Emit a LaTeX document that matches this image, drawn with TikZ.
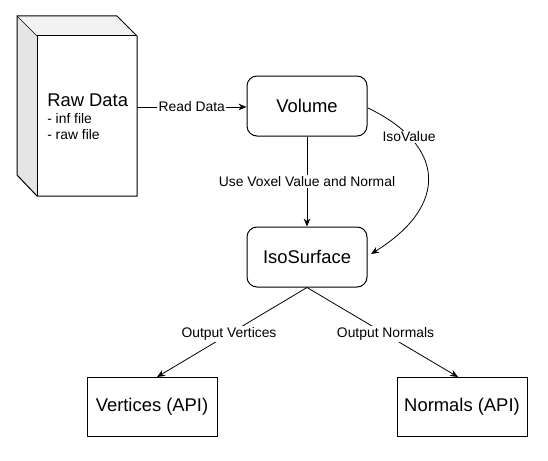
\documentclass[tikz,border=0pt]{standalone}
\usepackage{fontspec}
\setmainfont{Liberation Sans}
\usetikzlibrary{arrows.meta}
\begin{document}
\begin{tikzpicture}[x=0.75pt,y=-0.75pt,
  every node/.style={font=\fontsize{13.8pt}{16pt}\selectfont},
  rbox/.style={draw,line width=0.75pt,rounded corners=7.5pt,minimum width=90pt,minimum height=45pt,inner sep=0pt},
  sbox/.style={draw,line width=0.75pt,minimum width=97.5pt,minimum height=44.25pt,inner sep=0pt},
  small/.style={font=\fontsize{10.4pt}{12pt}\selectfont},
  lbl/.style={fill=white,inner sep=1pt,small},
  conn/.style={line width=0.75pt,-{Stealth[length=6pt,width=5pt]}},
  thin conn/.style={line width=0.6pt,-{Stealth[length=6pt,width=5pt]}}]
\useasboundingbox (0,0) rectangle (548,460);
% cube
\coordinate (b1) at (17,16);
\coordinate (b2) at (117,16);
\coordinate (f1) at (37,36);
\coordinate (f2) at (137,36);
\coordinate (f3) at (137,196);
\coordinate (f4) at (37,196);
\coordinate (b4) at (17,175);
\fill[black!10] (b1) -- (f1) -- (f4) -- (b4) -- cycle;
\fill[black!5] (b1) -- (b2) -- (f2) -- (f1) -- cycle;
\draw[line width=0.75pt,line join=miter] (b1) -- (b2) -- (f2) -- (f3) -- (f4) -- (b4) -- cycle;
\draw[line width=0.75pt] (f1) -- (f2);
\draw[line width=0.75pt] (f1) -- (f4);
\draw[line width=0.5pt] (b1) -- (f1);
\node[anchor=west,inner sep=0pt] (rawt) at (47,100) {Raw Data};
\node[anchor=west,inner sep=0pt,small] (rawa) at (47,119) {- inf file};
\node[anchor=west,inner sep=0pt,small] (rawb) at (47,135) {- raw file};
\coordinate (rawout) at (137,107);
% boxes
\node[rbox] (vol) at (307,106) {Volume};
\node[rbox] (iso) at (307,257) {IsoSurface};
\node[sbox] (vert) at (152,406.5) {Vertices (API)};
\node[sbox] (norm) at (462,406.5) {Normals (API)};
% connectors
\draw[conn] (rawout) -- (vol.west |- rawout) node[lbl,midway] {Read Data};
\draw[conn] (vol.south) -- (iso.north) node[lbl,pos=0.5] {Use Voxel Value and Normal};
\coordinate (cs) at (368,108);
\coordinate (ce) at (371,254);
\draw[thin conn] (cs) .. controls (445,145) and (450,205) .. (ce);
\node[lbl] (isov) at (409,137) {IsoValue};
\coordinate (vt) at (157,377);
\coordinate (nt) at (458,377);
\draw[thin conn] (iso.south) -- (vt) node[lbl,pos=0.52] {Output Vertices};
\draw[thin conn] (iso.south) -- (nt) node[lbl,pos=0.52] {Output Normals};
\end{tikzpicture}
\end{document}
